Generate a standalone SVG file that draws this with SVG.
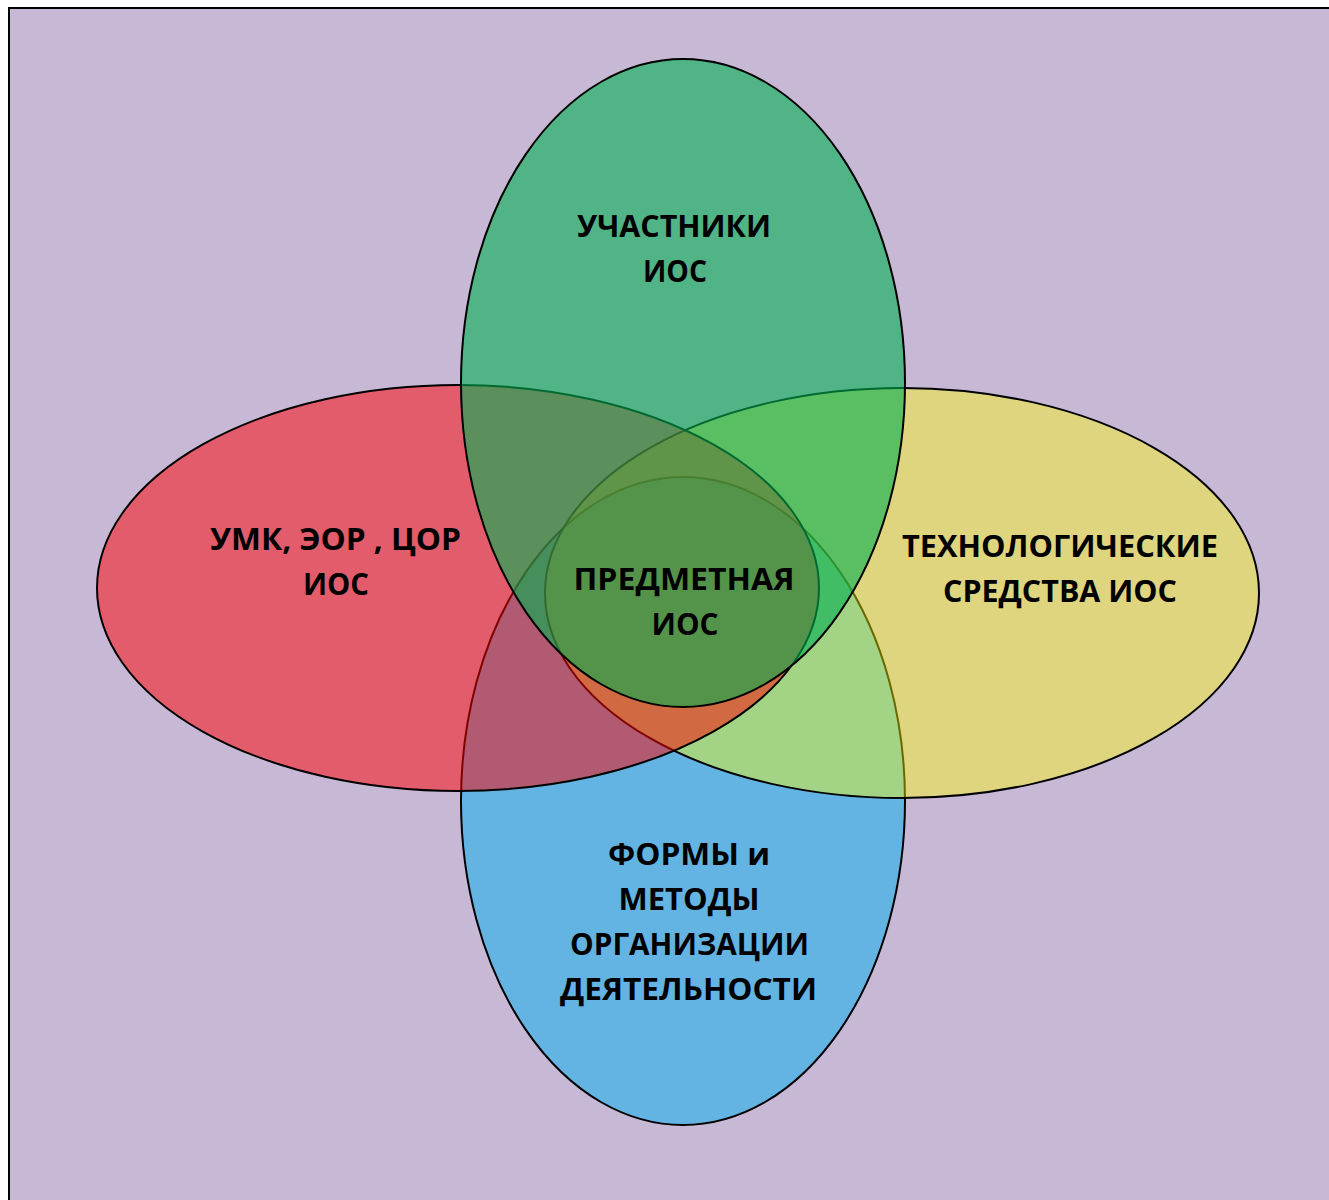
<svg xmlns="http://www.w3.org/2000/svg" width="1329" height="1200" viewBox="0 0 1329 1200">
  <style>
    .shape { stroke: #000000; stroke-width: 2; }
    .blue { fill: #00B0F0; fill-opacity: 0.5; }
    .yellow { fill: #FFFF00; fill-opacity: 0.41; }
    .red { fill: #FF0000; fill-opacity: 0.5; }
    .green { fill: #00B050; fill-opacity: 0.6; }
    .lbl { font-family: "Open Sans", "Noto Sans", "Liberation Sans", sans-serif; font-weight: 700; font-size: 30px; fill: #000000; text-anchor: middle; }
  </style>
  <rect x="0" y="0" width="1329" height="1200" fill="#FFFFFF"/>
  <rect id="background" x="9" y="8" width="1340" height="1210" fill="#C7B8D6" stroke="#000000" stroke-width="2"/>

  <g id="node-forms">
    <ellipse class="shape blue" cx="683" cy="801" rx="222" ry="324"/>
    <text class="lbl" x="689" y="865" textLength="162" lengthAdjust="spacingAndGlyphs">ФОРМЫ и</text>
    <text class="lbl" x="689" y="910" textLength="141" lengthAdjust="spacingAndGlyphs">МЕТОДЫ</text>
    <text class="lbl" x="689.5" y="955" textLength="239" lengthAdjust="spacingAndGlyphs">ОРГАНИЗАЦИИ</text>
    <text class="lbl" x="688.5" y="1000" textLength="257" lengthAdjust="spacingAndGlyphs">ДЕЯТЕЛЬНОСТИ</text>
  </g>

  <g id="node-tech">
    <ellipse class="shape yellow" cx="902" cy="593" rx="357" ry="205"/>
    <text class="lbl" x="1060" y="557" textLength="316" lengthAdjust="spacingAndGlyphs">ТЕХНОЛОГИЧЕСКИЕ</text>
    <text class="lbl" x="1060" y="602" textLength="234" lengthAdjust="spacingAndGlyphs">СРЕДСТВА ИОС</text>
  </g>

  <g id="node-umk">
    <ellipse class="shape red" cx="458" cy="588" rx="361" ry="203"/>
    <text class="lbl" x="335.5" y="550" textLength="251" lengthAdjust="spacingAndGlyphs">УМК, ЭОР , ЦОР</text>
    <text class="lbl" x="336" y="595" textLength="66" lengthAdjust="spacingAndGlyphs">ИОС</text>
  </g>

  <g id="node-participants">
    <ellipse class="shape green" cx="683" cy="383" rx="222" ry="324"/>
    <text class="lbl" x="674" y="237" textLength="194" lengthAdjust="spacingAndGlyphs">УЧАСТНИКИ</text>
    <text class="lbl" x="675" y="282" textLength="64" lengthAdjust="spacingAndGlyphs">ИОС</text>
  </g>

  <g id="node-subject">
    <text class="lbl" x="684" y="590" textLength="221" lengthAdjust="spacingAndGlyphs">ПРЕДМЕТНАЯ</text>
    <text class="lbl" x="685" y="635" textLength="67" lengthAdjust="spacingAndGlyphs">ИОС</text>
  </g>
</svg>
